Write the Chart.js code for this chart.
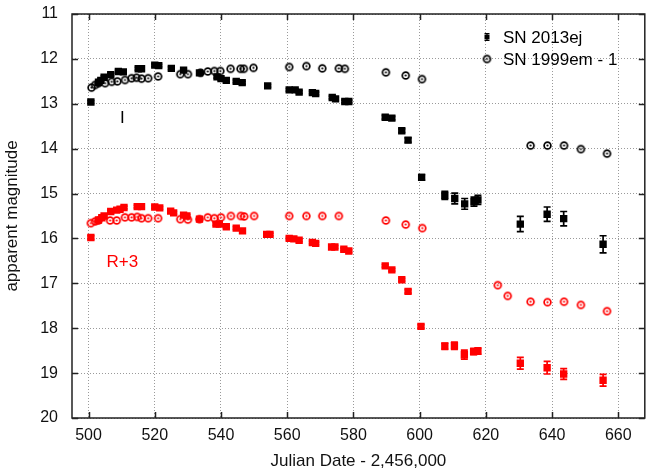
<!DOCTYPE html>
<html>
<head>
<meta charset="utf-8">
<script src="https://cdn.jsdelivr.net/npm/chart.js@4.4.0/dist/chart.umd.min.js"></script>
<style>
  html, body { margin: 0; padding: 0; background: #fff; }
  #wrap { width: 650px; height: 472px; }
</style>
</head>
<body>
<div id="wrap"><canvas id="lc" width="650" height="472"></canvas></div>
<script>
// tick labels
const xTicks = [500, 520, 540, 560, 580, 600, 620, 640, 660];
const yTicks = [11, 12, 13, 14, 15, 16, 17, 18, 19, 20];

// SN 2013ej, I band
const iDays = [500.7, 503.0, 503.7, 504.7, 506.7, 509.0, 510.5, 515.0, 516.0, 520.0, 521.2, 525.0, 528.7, 533.5, 538.8, 540.0,
    541.6, 544.6, 546.4, 554.1, 560.6, 562.4, 563.6, 567.6, 568.6, 573.6, 574.6, 577.4, 578.6,
    589.6, 591.6, 594.6, 596.5, 600.6, 607.6, 610.6, 613.6, 616.4, 617.6, 630.4, 638.5, 643.5, 655.4];
const iMag = [12.96, 12.52, 12.48, 12.41, 12.35, 12.28, 12.29, 12.22, 12.22, 12.14, 12.15, 12.21, 12.25, 12.31, 12.40, 12.44,
    12.48, 12.50, 12.53, 12.60, 12.69, 12.69, 12.74, 12.75, 12.77, 12.86, 12.89, 12.95, 12.95,
    13.30, 13.32, 13.60, 13.81, 14.64, 15.04, 15.11, 15.23, 15.18, 15.14, 15.68, 15.46, 15.56, 16.13];
const iErr = [0.03, 0.03, 0.03, 0.03, 0.03, 0.03, 0.03, 0.03, 0.03, 0.03, 0.03, 0.03, 0.03, 0.03, 0.03, 0.03,
    0.03, 0.03, 0.03, 0.03, 0.03, 0.03, 0.03, 0.03, 0.03, 0.03, 0.03, 0.03, 0.03,
    0.04, 0.04, 0.04, 0.05, 0.06, 0.09, 0.12, 0.12, 0.10, 0.10, 0.17, 0.16, 0.16, 0.19];

// SN 1999em - 1, I band
const iCompDays = [500.9, 502.0, 503.0, 505.0, 507.0, 508.7, 511.0, 513.0, 514.5, 516.0, 518.0, 521.0, 527.7, 530.0,
    533.8, 536.0, 538.0, 539.8, 542.9, 545.9, 546.9, 549.8, 560.6, 565.8, 570.6, 575.6, 577.4,
    589.8, 595.8, 600.7, 633.5, 638.6, 643.6, 648.7, 656.6];
const iCompMag = [12.64, 12.58, 12.54, 12.54, 12.51, 12.50, 12.47, 12.43, 12.42, 12.44, 12.43, 12.39, 12.34, 12.34,
    12.31, 12.28, 12.27, 12.27, 12.22, 12.22, 12.22, 12.20, 12.18, 12.16, 12.21, 12.21, 12.22,
    12.30, 12.37, 12.45, 13.93, 13.93, 13.93, 14.01, 14.11];

// SN 2013ej, R band + 3
const rDays = [500.7, 503.0, 504.0, 504.7, 506.7, 508.5, 509.5, 510.7, 514.7, 516.0, 520.0, 521.5, 524.8, 525.7, 528.7, 529.7,
    533.5, 538.5, 539.5, 541.6, 544.6, 546.5, 553.8, 554.8, 560.6, 562.0, 563.6, 567.6, 568.6, 573.4, 574.4, 577.1, 578.6,
    589.6, 591.6, 594.6, 596.5, 600.4, 607.6, 610.5, 613.5, 616.3, 617.6, 630.4, 638.5, 643.5, 655.4];
const rMag = [15.98, 15.59, 15.54, 15.50, 15.40, 15.37, 15.35, 15.31, 15.29, 15.29, 15.30, 15.32, 15.39, 15.43, 15.48, 15.50,
    15.57, 15.68, 15.68, 15.74, 15.77, 15.83, 15.91, 15.91, 16.00, 16.01, 16.04, 16.09, 16.11, 16.19, 16.19, 16.24, 16.28,
    16.61, 16.70, 16.92, 17.18, 17.96, 18.40, 18.39, 18.59, 18.52, 18.51, 18.78, 18.88, 19.02, 19.16];
const rErr = [0.04, 0.03, 0.03, 0.03, 0.03, 0.03, 0.03, 0.03, 0.03, 0.03, 0.03, 0.03, 0.03, 0.03, 0.03, 0.03,
    0.03, 0.03, 0.03, 0.03, 0.03, 0.03, 0.03, 0.03, 0.03, 0.03, 0.03, 0.03, 0.03, 0.03, 0.03, 0.03, 0.03,
    0.03, 0.03, 0.03, 0.04, 0.04, 0.07, 0.08, 0.10, 0.07, 0.07, 0.13, 0.14, 0.12, 0.13];

// SN 1999em - 1, R band + 3
const rCompDays = [500.7, 502.0, 503.0, 506.5, 508.5, 511.0, 513.0, 514.7, 516.0, 518.0, 521.0, 527.7, 530.0, 533.5,
    536.0, 538.0, 540.0, 543.0, 546.0, 547.0, 550.0, 560.6, 565.8, 570.6, 575.6,
    589.8, 595.8, 600.8, 623.6, 626.6, 633.5, 638.6, 643.6, 648.7, 656.6];
const rCompMag = [15.66, 15.62, 15.60, 15.60, 15.60, 15.53, 15.53, 15.52, 15.55, 15.55, 15.55, 15.57, 15.58, 15.57,
    15.53, 15.55, 15.53, 15.50, 15.50, 15.51, 15.50, 15.50, 15.50, 15.50, 15.50,
    15.60, 15.69, 15.77, 17.04, 17.28, 17.41, 17.42, 17.41, 17.48, 17.62];

const FONT = '"Liberation Sans", Arial, Helvetica, sans-serif';
const RED = '#ff0000';
const BLACK = '#000000';

// open circle with a dot in the middle, gnuplot style
function ringMarker(color) {
    const c = document.createElement('canvas');
    c.width = 11;
    c.height = 11;
    const g = c.getContext('2d');
    g.strokeStyle = color;
    g.fillStyle = color;
    g.lineWidth = 1.7;
    g.beginPath();
    g.arc(5.5, 5.5, 3.4, 0, Math.PI * 2);
    g.stroke();
    g.beginPath();
    g.arc(5.5, 5.5, 1.1, 0, Math.PI * 2);
    g.fill();
    return c;
}

function toPoints(xs, ys) {
    return xs.map((x, i) => ({ x: x, y: ys[i] }));
}

const errorBars = {
    id: 'errorBars',
    afterDatasetDraw(chart, args) {
        const ds = chart.data.datasets[args.index];
        if (!ds.errs) return;
        const ctx = chart.ctx;
        const xs = chart.scales.x, ys = chart.scales.y;
        ctx.save();
        ctx.strokeStyle = ds.borderColor;
        ctx.lineWidth = 1.7;
        ds.data.forEach((p, i) => {
            const e = ds.errs[i];
            const px = xs.getPixelForValue(p.x);
            const y1 = ys.getPixelForValue(p.y - e);
            const y2 = ys.getPixelForValue(p.y + e);
            ctx.beginPath();
            ctx.moveTo(px, y1);
            ctx.lineTo(px, y2);
            ctx.moveTo(px - 3.5, y1);
            ctx.lineTo(px + 3.5, y1);
            ctx.moveTo(px - 3.5, y2);
            ctx.lineTo(px + 3.5, y2);
            ctx.stroke();
        });
        ctx.restore();
    }
};

const frame = {
    id: 'frame',
    afterDraw(chart) {
        const ctx = chart.ctx;
        const a = chart.chartArea;
        const xs = chart.scales.x, ys = chart.scales.y;
        ctx.save();
        ctx.strokeStyle = '#222';
        ctx.lineWidth = 1.5;
        ctx.strokeRect(a.left, a.top, a.right - a.left, a.bottom - a.top);
        ctx.beginPath();
        xTicks.forEach(v => {
            const px = Math.round(xs.getPixelForValue(v)) + 0.5;
            ctx.moveTo(px, a.bottom);
            ctx.lineTo(px, a.bottom - 6);
            ctx.moveTo(px, a.top);
            ctx.lineTo(px, a.top + 6);
        });
        yTicks.forEach(v => {
            const py = Math.round(ys.getPixelForValue(v)) + 0.5;
            ctx.moveTo(a.left, py);
            ctx.lineTo(a.left + 6, py);
            ctx.moveTo(a.right, py);
            ctx.lineTo(a.right - 6, py);
        });
        ctx.stroke();

        // band labels
        ctx.font = '17px ' + FONT;
        ctx.textAlign = 'center';
        ctx.textBaseline = 'middle';
        ctx.fillStyle = BLACK;
        ctx.fillText('I', xs.getPixelForValue(510.2), ys.getPixelForValue(13.32));
        ctx.fillStyle = RED;
        ctx.fillText('R+3', xs.getPixelForValue(510.2), ys.getPixelForValue(16.54));

        // key, top right
        const items = chart.data.datasets.filter(d => d.keyRow !== undefined)
            .sort((p, q) => p.keyRow - q.keyRow);
        ctx.textAlign = 'left';
        items.forEach((d, k) => {
            const ky = 37 + k * 22;
            const kx = 487;
            if (d.pointStyle === 'rect') {
                ctx.fillStyle = d.borderColor;
                ctx.strokeStyle = d.borderColor;
                ctx.fillRect(kx - 2.5, ky - 2.5, 5, 5);
                ctx.lineWidth = 1.2;
                ctx.beginPath();
                ctx.moveTo(kx, ky - 3.5);
                ctx.lineTo(kx, ky + 3.5);
                ctx.moveTo(kx - 2.5, ky - 3.5);
                ctx.lineTo(kx + 2.5, ky - 3.5);
                ctx.moveTo(kx - 2.5, ky + 3.5);
                ctx.lineTo(kx + 2.5, ky + 3.5);
                ctx.stroke();
            } else {
                ctx.drawImage(d.pointStyle, kx - 5.5, ky - 5.5);
            }
            ctx.fillStyle = BLACK;
            ctx.fillText(d.label, 503, ky + 1);
        });
        ctx.restore();
    }
};

const ctx = document.getElementById('lc').getContext('2d');

new Chart(ctx, {
    type: 'scatter',
    data: {
        datasets: [
            {
                label: 'SN 1999em - 1',
                data: toPoints(rCompDays, rCompMag),
                pointStyle: ringMarker(RED),
                borderColor: RED,
                backgroundColor: RED,
            },
            {
                label: 'SN 2013ej R',
                data: toPoints(rDays, rMag),
                errs: rErr,
                pointStyle: 'rect',
                pointRadius: 5.2,
                borderWidth: 0,
                borderColor: RED,
                backgroundColor: RED,
            },
            {
                label: 'SN 1999em - 1',
                data: toPoints(iCompDays, iCompMag),
                pointStyle: ringMarker(BLACK),
                borderColor: BLACK,
                backgroundColor: BLACK,
                keyRow: 1,
            },
            {
                label: 'SN 2013ej',
                data: toPoints(iDays, iMag),
                errs: iErr,
                pointStyle: 'rect',
                pointRadius: 5.2,
                borderWidth: 0,
                borderColor: BLACK,
                backgroundColor: BLACK,
                keyRow: 0,
                order: -1,
            },
        ],
    },
    options: {
        responsive: false,
        animation: false,
        devicePixelRatio: 1,
        layout: { padding: { top: 14, right: 2, left: 0, bottom: 0 } },
        plugins: {
            legend: { display: false },
            tooltip: { enabled: false },
        },
        scales: {
            x: {
                type: 'linear',
                min: 495,
                max: 668,
                afterBuildTicks: s => { s.ticks = xTicks.map(v => ({ value: v })); },
                afterFit: s => { s.height = 54; s.paddingLeft = 0; s.paddingRight = 0; },
                grid: { color: '#9a9a9a', lineWidth: 1, drawTicks: false },
                border: { display: false, dash: [1, 2] },
                ticks: { color: '#111', font: { family: FONT, size: 16 }, padding: 8, maxRotation: 0 },
                title: {
                    display: true,
                    text: 'Julian Date - 2,456,000',
                    color: '#111',
                    font: { family: FONT, size: 17 },
                    padding: { top: 0, bottom: 0 },
                },
            },
            y: {
                type: 'linear',
                reverse: true,
                min: 11,
                max: 20,
                afterBuildTicks: s => { s.ticks = yTicks.map(v => ({ value: v })); },
                afterFit: s => { s.width = 72; s.paddingTop = 0; s.paddingBottom = 0; },
                grid: { color: '#9a9a9a', lineWidth: 1, drawTicks: false },
                border: { display: false, dash: [1, 2] },
                ticks: { color: '#111', font: { family: FONT, size: 16 }, padding: 14 },
                title: {
                    display: true,
                    text: 'apparent magnitude',
                    color: '#111',
                    font: { family: FONT, size: 17 },
                    padding: { top: 2, bottom: 0 },
                },
            },
        },
    },
    plugins: [errorBars, frame],
});
</script>
</body>
</html>
